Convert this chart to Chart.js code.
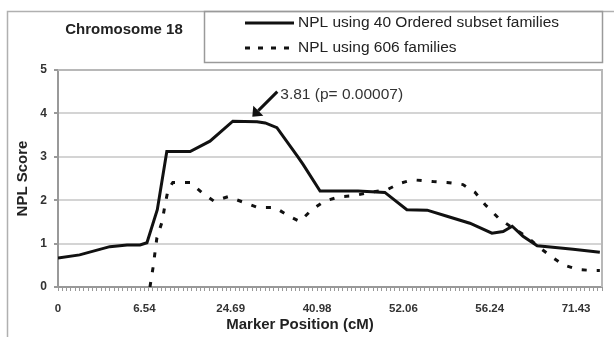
<!DOCTYPE html>
<html><head><meta charset="utf-8">
<script src="https://cdn.jsdelivr.net/npm/chart.js@4/dist/chart.umd.min.js"></script>
<style>html,body{margin:0;padding:0;background:#fff}#wrap{width:614px;height:337px;position:relative}</style>
</head><body><div id="wrap"><canvas id="c" width="614" height="337"></canvas></div>
<script>
// ---- data ----
const titleText = 'Chromosome 18';
const seriesNames = ['NPL using 40 Ordered subset families', 'NPL using 606 families'];
const xTickLabels = ['0', '6.54', '24.69', '40.98', '52.06', '56.24', '71.43'];
const xTickEvery = 20;      // markers between labelled positions
const markerCount = 126;    // marker index range
const yTicks = [0, 1, 2, 3, 4, 5];
const xAxisTitle = 'Marker Position (cM)';
const yAxisTitle = 'NPL Score';

const subsetX = [0, 5, 12, 16, 19, 20.6, 23, 25.2, 30.6, 35.2, 40.5, 46.1, 48, 50.7, 55.4, 56.8, 60.7, 69.5, 75.7, 80.8, 85.5, 90.1, 95.4, 100.5, 103.1, 105.2, 107.7, 111, 114, 119.3, 125.5];
const subsetY = [0.67, 0.74, 0.93, 0.97, 0.97, 1.02, 1.78, 3.12, 3.12, 3.36, 3.82, 3.81, 3.78, 3.67, 3.02, 2.82, 2.21, 2.21, 2.18, 1.78, 1.77, 1.63, 1.47, 1.24, 1.28, 1.40, 1.17, 0.95, 0.92, 0.87, 0.80];

const allX = [21.3, 22, 22.9, 24.1, 24.8, 25.5, 26.6, 30.6, 33.4, 36.1, 39.4, 43.3, 46.3, 50.3, 53.7, 56, 58.8, 61.8, 65.3, 68.3, 72.3, 76.2, 79.2, 82.2, 86.9, 90.1, 93.8, 96.6, 98.9, 101.9, 104.7, 108.6, 111, 114, 117, 120.5, 124, 125.5];
const allY = [0.0, 0.44, 1.13, 1.5, 1.9, 2.24, 2.41, 2.41, 2.17, 1.98, 2.08, 1.94, 1.83, 1.83, 1.62, 1.51, 1.78, 1.98, 2.08, 2.1, 2.18, 2.24, 2.39, 2.47, 2.43, 2.41, 2.36, 2.18, 1.9, 1.6, 1.4, 1.16, 0.95, 0.72, 0.51, 0.4, 0.38, 0.38];

const peakText = '3.81 (p= 0.00007)';
const peakX = 45;
const peakY = 3.81;

// ---- chart ----
const FONT = "'Liberation Sans', Arial, sans-serif";
const pts = (xs, ys) => xs.map((x, i) => ({ x: x, y: ys[i] }));

const decor = {
  id: 'decor',
  afterDraw(chart) {
    const c = chart.ctx, a = chart.chartArea;
    const xs = chart.scales.x, ys = chart.scales.y;
    c.save();
    // plot area border (top/right)
    c.strokeStyle = '#b8b8b8'; c.lineWidth = 2;
    c.beginPath(); c.moveTo(a.left, a.top); c.lineTo(a.right, a.top); c.lineTo(a.right, a.bottom); c.stroke();
    // outer frame
    c.strokeStyle = '#b0b0b0'; c.lineWidth = 1.5;
    c.beginPath(); c.moveTo(7.5, 337); c.lineTo(7.5, 11.5); c.lineTo(614, 11.5); c.stroke();
    // legend box
    c.strokeStyle = '#9a9a9a'; c.lineWidth = 1.5;
    c.strokeRect(204.5, 11.5, 398, 51);
    // title
    c.fillStyle = '#222'; c.font = 'bold 15px ' + FONT; c.textAlign = 'center'; c.textBaseline = 'middle';
    c.fillText(titleText, 124, 30);
    // legend rows
    c.strokeStyle = '#111'; c.lineWidth = 3;
    c.beginPath(); c.moveTo(245, 23); c.lineTo(294, 23); c.stroke();
    c.setLineDash([5, 8]);
    c.beginPath(); c.moveTo(245, 48); c.lineTo(297, 48); c.stroke();
    c.setLineDash([]);
    c.font = '15.5px ' + FONT; c.textAlign = 'left'; c.fillStyle = '#222';
    c.fillText(seriesNames[0], 298, 23);
    c.fillText(seriesNames[1], 298, 48);
    // peak annotation
    const tx = xs.getPixelForValue(peakX), ty = ys.getPixelForValue(peakY) - 5;
    const sx = tx + 25, sy = ty - 25;
    c.strokeStyle = '#111'; c.fillStyle = '#111'; c.lineWidth = 3;
    c.beginPath(); c.moveTo(sx, sy); c.lineTo(tx + 6, ty - 6); c.stroke();
    c.beginPath(); c.moveTo(tx, ty); c.lineTo(tx + 1, ty - 11); c.lineTo(tx + 11, ty - 1); c.closePath(); c.fill();
    c.fillStyle = '#333'; c.font = '15.5px ' + FONT; c.textAlign = 'left'; c.textBaseline = 'middle';
    c.fillText(peakText, sx + 3, sy + 3);
    // x axis title
    c.fillStyle = '#222'; c.font = 'bold 15px ' + FONT; c.textAlign = 'center';
    c.fillText(xAxisTitle, 300, 325);
    c.restore();
  }
};

new Chart(document.getElementById('c'), {
  type: 'line',
  data: {
    datasets: [
      { label: seriesNames[0], data: pts(subsetX, subsetY), borderColor: '#111', borderWidth: 3, pointRadius: 0, fill: false, tension: 0 },
      { label: seriesNames[1], data: pts(allX, allY), borderColor: '#111', borderWidth: 3, borderDash: [5, 10], pointRadius: 0, fill: false, tension: 0 }
    ]
  },
  options: {
    responsive: false, animation: false, devicePixelRatio: 1,
    layout: { padding: { top: 70, right: 12, left: 0, bottom: 0 } },
    plugins: { legend: { display: false }, tooltip: { enabled: false } },
    scales: {
      x: {
        type: 'linear', min: 0, max: markerCount,
        afterFit: s => { s.height = 50; },
        ticks: {
          stepSize: 1, autoSkip: false, maxRotation: 0, minRotation: 0, padding: 11,
          color: '#333', font: { family: FONT, size: 11.5, weight: 'bold' },
          callback: v => (v % xTickEvery === 0 && xTickLabels[v / xTickEvery] !== undefined) ? xTickLabels[v / xTickEvery] : ''
        },
        grid: { drawOnChartArea: false, tickLength: 4, tickColor: '#999', lineWidth: 1 },
        border: { color: '#999', width: 2 }
      },
      y: {
        min: 0, max: 5,
        afterFit: s => { s.width = 58; },
        afterBuildTicks: s => { s.ticks = yTicks.map(v => ({ value: v })); },
        ticks: { padding: 7, color: '#333', font: { family: FONT, size: 12, weight: 'bold' } },
        grid: { color: '#d4d4d4', lineWidth: 2, tickLength: 4, tickColor: '#999' },
        border: { color: '#999', width: 2 },
        title: { display: true, text: yAxisTitle, color: '#222', font: { family: FONT, size: 15, weight: 'bold' }, padding: { top: 14, bottom: 0 } }
      }
    }
  },
  plugins: [decor]
});
</script></body></html>
